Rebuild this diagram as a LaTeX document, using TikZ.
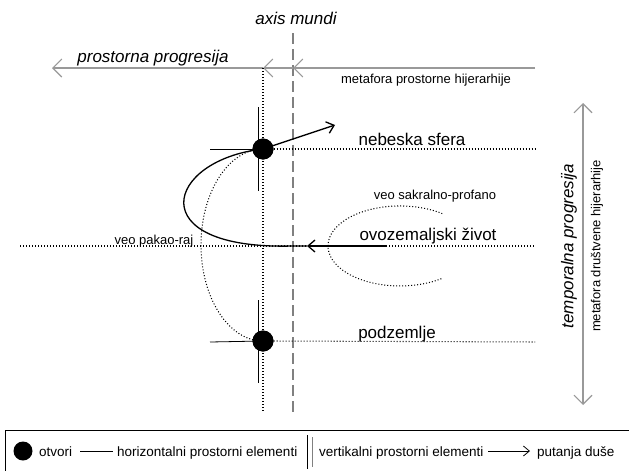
\documentclass[tikz,border=0pt]{standalone}
\usepackage{fontspec}
\setmainfont{Liberation Sans}
\usetikzlibrary{arrows.meta}
\begin{document}
\begin{tikzpicture}[x=1pt,y=-1pt,
  big/.style={font=\fontsize{17}{20}\selectfont, inner sep=0pt},
  bigit/.style={font=\fontsize{17}{20}\selectfont\itshape, inner sep=0pt},
  small/.style={font=\fontsize{13}{15}\selectfont, inner sep=0pt},
  legtext/.style={font=\fontsize{13.5}{15}\selectfont, inner sep=0pt, anchor=base west},
  dotline/.style={line width=1.05pt, dash pattern=on 1pt off 2pt},
  axisline/.style={draw=gray, line width=1.8pt, dash pattern=on 11pt off 5pt},
  helem/.style={line width=0.8pt},
  velem/.style={line width=0.8pt},
  opening/.style={circle, fill=black, minimum size=21pt, inner sep=0pt},
  garrow/.style={draw=gray!80, line width=1.1pt, -{Straight Barb[length=9pt,width=18pt]}},
  gdarrow/.style={draw=gray!80, line width=1.1pt, {Straight Barb[length=9pt,width=18pt]}-{Straight Barb[length=9pt,width=18pt]}},
  soul/.style={line width=1.3pt},
  soularrow/.style={line width=1.3pt, -{Straight Barb[length=7pt,width=12pt]}},
  legarrow/.style={line width=0.8pt, -{Straight Barb[length=6pt,width=10pt]}},
]
\useasboundingbox (0,0) rectangle (629,471);

% coordinates
\coordinate (tlR) at (535,68);
\coordinate (tlA) at (293,68);
\coordinate (tlB) at (263,68);
\coordinate (tlL) at (52,68);
\coordinate (axT) at (293,33);
\coordinate (axB) at (293,415);
\coordinate (dvT) at (263,68);
\coordinate (dvB) at (263,412);

% openings
\node[opening] (top) at (263,149) {};
\node[opening] (bot) at (263,341) {};

% axis mundi
\node[bigit] (axis) at (296,18) {axis mundi};
\draw[axisline] (axT) -- (axB);

% top gray arrow line
\draw[garrow] (tlR) -- (tlA);
\draw[garrow] (tlA) -- (tlB);
\draw[garrow] (tlB) -- (tlL);
\node[bigit, anchor=base] (prog) at (153,62) {prostorna progresija};
\node[small, anchor=base] (metaP) at (426,83) {metafora prostorne hijerarhije};

% dotted vertical
\draw[dotline] (dvT) -- (dvB);

% dotted horizontals
\coordinate (d1R) at (535,149);
\coordinate (d2L) at (20,246);
\coordinate (d2R) at (535,246);
\coordinate (d3R) at (535,342);
\draw[dotline] (top.east) -- (d1R);
\draw[dotline] (d2L) -- (d2R);
\draw[dotline] (bot.east) -- (d3R);

% dotted half ellipse (veo pakao-raj)
\draw[dotline] (top.center) arc[start angle=90, end angle=270, x radius=62pt, y radius=96pt];
% dotted ellipse (veo sakralno-profano)
\coordinate (veoS) at (442.3,213.6);
\draw[dotline] (veoS) arc[start angle=54, end angle=306, x radius=72pt, y radius=40pt];

% horizontal and vertical spatial elements
\coordinate (h1L) at (210,149);
\coordinate (h2L) at (210,342);
\coordinate (v1T) at (258,107);
\coordinate (v1B) at (258,191);
\coordinate (v2T) at (258,300);
\coordinate (v2B) at (258,383);
\draw[helem] (h1L) -- (top.center);
\draw[helem] (h2L) -- (bot.center);
\draw[velem] (v1T) -- (v1B);
\draw[velem] (v2T) -- (v2B);

% soul path
\coordinate (ovo) at (387,246);
\coordinate (larr) at (307,246);
\coordinate (cjoin) at (292,246);
\coordinate (soulEnd) at (335,125);
\draw[soularrow] (ovo) -- (larr);
\draw[soul] (larr) -- (cjoin) .. controls (140,250) and (165,160) .. (top.center);
\draw[soularrow] (top.center) -- (soulEnd);

% redraw openings on top
\node[opening] at (top) {};
\node[opening] at (bot) {};

% labels
\node[big, anchor=base] (neb) at (412,145) {nebeska sfera};
\node[small, anchor=base] (veoSP) at (435,199) {veo sakralno-profano};
\node[big, anchor=base] (ovoz) at (428,240) {ovozemaljski život};
\node[small, anchor=base] (veoPR) at (154,244) {veo pakao-raj};
\node[big, anchor=base] (podz) at (397,338) {podzemlje};

% right vertical arrow
\coordinate (raT) at (583,103);
\coordinate (raB) at (583,405);
\draw[gdarrow] (raT) -- (raB);
\node[bigit, rotate=90] (temp) at (569,246) {temporalna progresija};
\node[small, rotate=90] (metaD) at (597,246) {metafora društvene hijerarhije};

% legend
\coordinate (lgTL) at (5,430);
\coordinate (lgTR) at (629,430);
\coordinate (lgBL) at (5,471);
\draw[line width=0.9pt] (lgBL) -- (lgTL) -- (lgTR);
\node[circle, fill=black, minimum size=19pt, inner sep=0pt] (lgOpen) at (23,451) {};
\node[legtext] (lgOt) at (39,456) {otvori};
\coordinate (lgH1) at (80,451);
\coordinate (lgH2) at (113,451);
\draw[helem] (lgH1) -- (lgH2);
\node[legtext] (lgHor) at (117,456) {horizontalni prostorni elementi};
\coordinate (lgV1T) at (307,435);
\coordinate (lgV1B) at (307,469);
\coordinate (lgV2T) at (312,437);
\coordinate (lgV2B) at (312,467);
\draw[line width=0.9pt] (lgV1T) -- (lgV1B);
\draw[line width=0.9pt, gray] (lgV2T) -- (lgV2B);
\node[legtext] (lgVer) at (319,456) {vertikalni prostorni elementi};
\coordinate (lgA1) at (488,451);
\coordinate (lgA2) at (530,451);
\draw[legarrow] (lgA1) -- (lgA2);
\node[legtext] (lgPut) at (537,456) {putanja duše};
\end{tikzpicture}
\end{document}
